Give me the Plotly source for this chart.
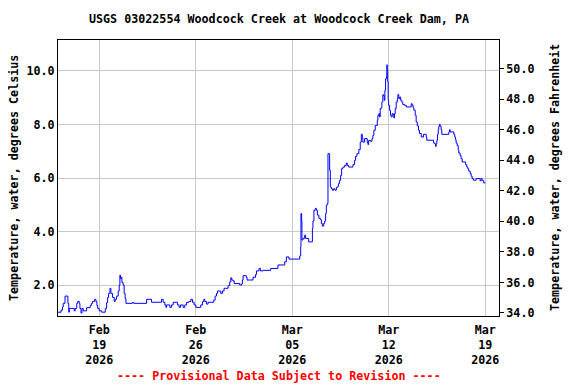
import pandas as pd
import plotly.graph_objects as go

# ---- data (days since 2026-02-16 00:00, deg C) ----
start_time = "2026-02-16 00:00"
t_days = [
    0.00, 0.22, 0.33, 0.38, 0.51, 0.72, 0.78, 0.82, 1.18, 1.25, 1.36, 1.43, 1.54, 1.59, 1.67, 1.74, 1.83,
    2.08, 2.34, 2.42, 2.51, 2.66, 2.75, 2.82, 2.88, 2.99, 3.17, 3.43, 3.53, 3.60, 3.67, 3.77, 3.84, 3.96,
    4.08, 4.15, 4.25, 4.37, 4.44, 4.49, 4.53, 4.57, 4.64, 4.73, 4.80, 4.87, 4.93, 5.40, 5.50, 6.43, 6.79,
    7.51, 7.63, 7.75, 7.83, 7.88, 8.12, 8.24, 8.36, 8.67, 8.79, 8.89, 9.08, 9.20, 9.33, 9.51, 9.64, 9.76,
    9.88, 10.00, 10.36, 10.49, 10.58, 10.65, 10.78, 10.89, 11.30, 11.40, 11.50, 11.57, 11.81, 11.93, 12.05,
    12.34, 12.46, 12.54, 12.61, 12.70, 12.78, 13.19, 13.31, 13.38, 13.43, 13.67, 13.72, 14.15, 14.33, 14.40,
    14.59, 14.69, 14.88, 15.43, 15.96, 16.45, 16.57, 16.76, 17.54, 17.61, 17.63, 17.68, 17.70, 17.78, 17.90,
    17.97, 18.19, 18.46, 18.50, 18.57, 18.67, 18.75, 18.82, 18.93, 19.04, 19.11, 19.18, 19.28, 19.35, 19.42,
    19.47, 19.54, 19.59, 19.71, 19.76, 19.83, 19.91, 20.00, 20.09, 20.20, 20.29, 20.36, 20.43, 20.51, 20.58,
    20.67, 20.80, 20.92, 20.99, 21.09, 21.40, 21.52, 21.59, 21.69, 21.83, 21.93, 22.01, 22.08, 22.12, 22.25,
    22.44, 22.49, 22.54, 22.68, 22.78, 22.85, 22.92, 23.02, 23.17, 23.21, 23.28, 23.33, 23.38, 23.46, 23.50,
    23.57, 23.62, 23.67, 23.72, 23.77, 23.84, 23.86, 23.89, 23.92, 23.96, 23.99, 24.06, 24.13, 24.18, 24.25,
    24.33, 24.37, 24.42, 24.47, 24.54, 24.62, 24.66, 24.73, 24.80, 24.86, 24.95, 25.02, 25.14, 25.27, 25.63,
    25.70, 25.77, 25.82, 25.92, 25.99, 26.07, 26.16, 26.23, 26.36, 26.52, 26.72, 26.76, 27.25, 27.34, 27.39,
    27.44, 27.49, 27.54, 27.59, 27.63, 27.68, 27.73, 27.80, 27.85, 28.36, 28.41, 28.46, 28.72, 28.79, 28.84,
    28.89, 28.96, 29.04, 29.08, 29.18, 29.25, 29.33, 29.57, 29.66, 29.73, 29.80, 29.91, 29.98, 30.05, 30.14,
    30.34, 30.63, 30.70, 30.78, 30.89, 31.01,
]
temp_c = [
    1.00, 1.08, 1.20, 1.33, 1.60, 1.33, 1.00, 1.14, 1.05, 1.14, 1.33, 1.40, 1.33, 1.14, 0.97, 1.14, 1.05,
    1.17, 1.25, 1.33, 1.40, 1.48, 1.40, 1.25, 1.14, 1.05, 1.00, 1.14, 1.36, 1.55, 1.70, 1.89, 1.70, 1.55,
    1.40, 1.48, 1.60, 1.79, 2.01, 2.38, 2.25, 2.30, 2.10, 2.01, 1.70, 1.50, 1.33, 1.36, 1.33, 1.48, 1.37,
    1.48, 1.37, 1.27, 1.18, 1.27, 1.18, 1.27, 1.37, 1.27, 1.18, 1.27, 1.18, 1.27, 1.37, 1.40, 1.48, 1.37,
    1.27, 1.18, 1.27, 1.40, 1.48, 1.40, 1.30, 1.37, 1.45, 1.60, 1.70, 1.79, 1.70, 1.79, 1.89,
    1.99, 2.13, 2.28, 2.20, 2.17, 2.07, 2.01, 2.05, 2.20, 2.36, 2.30, 2.20, 2.30, 2.40, 2.54,
    2.63, 2.54, 2.56, 2.63, 2.76, 2.88, 3.06, 2.98, 3.10, 3.44, 4.68, 4.40, 3.69, 3.75, 3.87,
    3.75, 3.62, 4.12, 4.40, 4.80, 4.87, 4.80, 4.62, 4.50, 4.45, 4.31, 4.21, 4.31, 4.40, 4.68,
    4.99, 5.05, 6.91, 6.29, 5.67, 5.60, 5.55, 5.60, 5.55, 5.65, 5.69, 5.80, 5.92, 6.10, 6.35,
    6.41, 6.47, 6.56, 6.47, 6.41, 6.50, 6.66, 6.81, 6.91, 7.06, 7.34, 7.63, 7.50, 7.34, 7.47,
    7.32, 7.25, 7.40, 7.37, 7.47, 7.59, 7.78, 7.96, 8.15, 8.33, 8.40, 8.28, 8.59, 8.62, 8.83,
    9.11, 9.08, 8.90, 9.27, 9.70, 9.80, 10.22, 10.05, 9.60, 8.90, 8.71, 8.52, 8.34, 8.28, 8.40,
    8.34, 8.24, 8.40, 8.59, 8.83, 8.96, 9.11, 8.96, 9.02, 8.90, 8.83, 8.74, 8.71, 8.65, 8.77,
    8.71, 8.62, 8.53, 8.34, 8.09, 7.94, 7.78, 7.66, 7.53, 7.63, 7.53, 7.41, 7.31, 7.28, 7.18,
    7.28, 7.41, 7.63, 7.80, 7.93, 8.00, 7.93, 7.80, 7.63, 7.72, 7.80, 7.72, 7.63, 7.53, 7.43,
    7.31, 7.22, 7.05, 6.93, 6.84, 6.72, 6.60, 6.50, 6.41, 6.35, 6.26, 6.17, 6.07, 5.98, 5.92,
    5.98, 5.90, 5.98, 5.90, 5.82, 5.82,
]
tick_dates = ["2026-02-19", "2026-02-26", "2026-03-05", "2026-03-12", "2026-03-19"]
tick_text = ["Feb<br>19<br>2026", "Feb<br>26<br>2026", "Mar<br>05<br>2026", "Mar<br>12<br>2026", "Mar<br>19<br>2026"]
celsius_ticks = [2, 4, 6, 8, 10]
fahrenheit_ticks = [34, 36, 38, 40, 42, 44, 46, 48, 50]

times = pd.Timestamp(start_time) + pd.to_timedelta(t_days, unit="D")
temp_f = [c * 1.8 + 32 for c in temp_c]

FONT = dict(family="DejaVu Sans Mono", size=11.7, color="black", weight="bold")
GRID = "#c8c8c8"

fig = go.Figure()
fig.add_trace(go.Scatter(x=times, y=temp_c, mode="lines",
                         line=dict(color="#0000ff", width=1, shape="hv"),
                         showlegend=False, hoverinfo="skip"))
fig.add_trace(go.Scatter(x=times, y=temp_f, yaxis="y2", mode="lines",
                         line=dict(color="rgba(0,0,0,0)", width=0),
                         showlegend=False, hoverinfo="skip"))

# the page body adds an 8 px offset, so the figure is sized/margined to compensate
fig.update_layout(
    width=568, height=376,
    margin=dict(l=50, r=77, t=32, b=68),
    paper_bgcolor="white", plot_bgcolor="white",
    font=FONT,
    xaxis=dict(type="date", range=["2026-02-16", "2026-03-20"],
               tickvals=tick_dates, ticktext=tick_text,
               showgrid=True, gridcolor=GRID, gridwidth=1,
               showline=True, linecolor="black", linewidth=1, mirror=True,
               ticks="", zeroline=False, tickfont=FONT, ticklabelstandoff=3),
    yaxis=dict(range=[0.858, 11.146], tickvals=celsius_ticks, tickformat=".1f",
               showgrid=True, gridcolor=GRID, gridwidth=1,
               showline=True, linecolor="black", linewidth=1, mirror=True,
               ticks="", zeroline=False, tickfont=FONT, automargin=False),
    yaxis2=dict(overlaying="y", side="right", range=[33.8, 51.88],
                tickvals=fahrenheit_ticks, tickformat=".1f",
                showgrid=False, showline=True, linecolor="black", linewidth=1,
                ticks="outside", ticklen=4, tickcolor="black", zeroline=False, tickfont=FONT,
                automargin=False),
    annotations=[
        dict(text="USGS 03022554 Woodcock Creek at Woodcock Creek Dam, PA",
             xref="paper", yref="paper", x=0.5, y=(316 - 19) / 276,
             xanchor="center", yanchor="middle", showarrow=False, font=FONT),
        dict(text="Temperature, water, degrees Celsius",
             xref="paper", yref="paper", x=(14 - 58) / 441, y=0.5, textangle=-90,
             xanchor="center", yanchor="middle", showarrow=False, font=FONT),
        dict(text="Temperature, water, degrees Fahrenheit",
             xref="paper", yref="paper", x=(555 - 58) / 441, y=0.5, textangle=-90,
             xanchor="center", yanchor="middle", showarrow=False, font=FONT),
        dict(text="---- Provisional Data Subject to Revision ----",
             xref="paper", yref="paper", x=0.5, y=(316 - 376) / 276,
             xanchor="center", yanchor="middle", showarrow=False,
             font=dict(family="DejaVu Sans Mono", size=11.7, color="#ff0000", weight="bold")),
    ],
)

fig.write_html("out.html")
